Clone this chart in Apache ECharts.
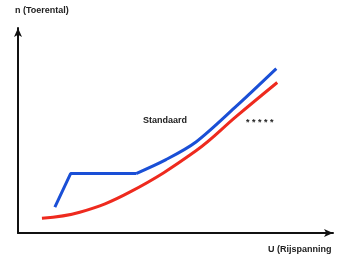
<!DOCTYPE html>
<html>
<head>
<meta charset="utf-8">
<script src="https://cdn.jsdelivr.net/npm/echarts@6/dist/echarts.min.js"></script>
<style>
  html, body { margin: 0; padding: 0; background: #fff; }
  #chart { width: 337px; height: 257px; }
</style>
</head>
<body>
<div id="chart"></div>
<script>
// U (Rijspanning) / n (Toerental), arbitrary units
// blue: the low part (start, knee, flat) and the rising part
const blueLowU = [1.17, 1.67, 3.75]
const blueLowN = [1.26, 2.90, 2.90]
const blueHighU = [3.75, 4.70, 5.65, 6.94, 8.20]
const blueHighN = [2.90, 3.58, 4.44, 6.20, 8.02]
const redU = [0.76, 1.96, 3.53, 5.65, 6.94, 8.23]
const redN = [0.72, 1.01, 1.98, 4.01, 5.70, 7.34]
const labels = ['n (Toerental)', 'U (Rijspanning', 'Standaard', '* * * * *']

const chart = echarts.init(document.getElementById('chart'))

const axisLine = {
  show: true,
  symbol: ['none', 'arrow'],
  symbolSize: [6, 9],
  lineStyle: { color: '#111', width: 2 }
}

const blue = '#1a4fd6'

chart.setOption({
  animation: false,
  grid: { left: 18, right: 4, top: 28, bottom: 24 },
  xAxis: {
    type: 'value',
    min: 0,
    max: 10,
    axisLine: axisLine,
    axisTick: { show: false },
    axisLabel: { show: false },
    splitLine: { show: false }
  },
  yAxis: {
    type: 'value',
    min: 0,
    max: 10,
    axisLine: axisLine,
    axisTick: { show: false },
    axisLabel: { show: false },
    splitLine: { show: false }
  },
  graphic: [
    {
      type: 'text', left: 15, top: 6,
      style: { text: labels[0], font: 'bold 9px "Liberation Sans"', fill: '#222' }
    },
    {
      type: 'text', left: 268, top: 245,
      style: { text: labels[1], font: 'bold 9px "Liberation Sans"', fill: '#222' }
    },
    {
      type: 'text', left: 143, top: 116,
      style: { text: labels[2], font: 'bold 9px "Liberation Sans"', fill: '#222' }
    },
    {
      type: 'text', left: 246, top: 118,
      style: { text: labels[3], font: 'bold 9px "Liberation Sans"', fill: '#222' }
    }
  ],
  series: [
    {
      type: 'line',
      symbol: 'none',
      smooth: 0.4,
      lineStyle: { color: '#ee2a1e', width: 3 },
      data: redU.map((u, i) => [u, redN[i]])
    },
    {
      type: 'line',
      symbol: 'none',
      lineStyle: { color: blue, width: 3 },
      data: blueLowU.map((u, i) => [u, blueLowN[i]])
    },
    {
      type: 'line',
      symbol: 'none',
      smooth: 0.3,
      lineStyle: { color: blue, width: 3 },
      data: blueHighU.map((u, i) => [u, blueHighN[i]])
    }
  ]
})
</script>
</body>
</html>
